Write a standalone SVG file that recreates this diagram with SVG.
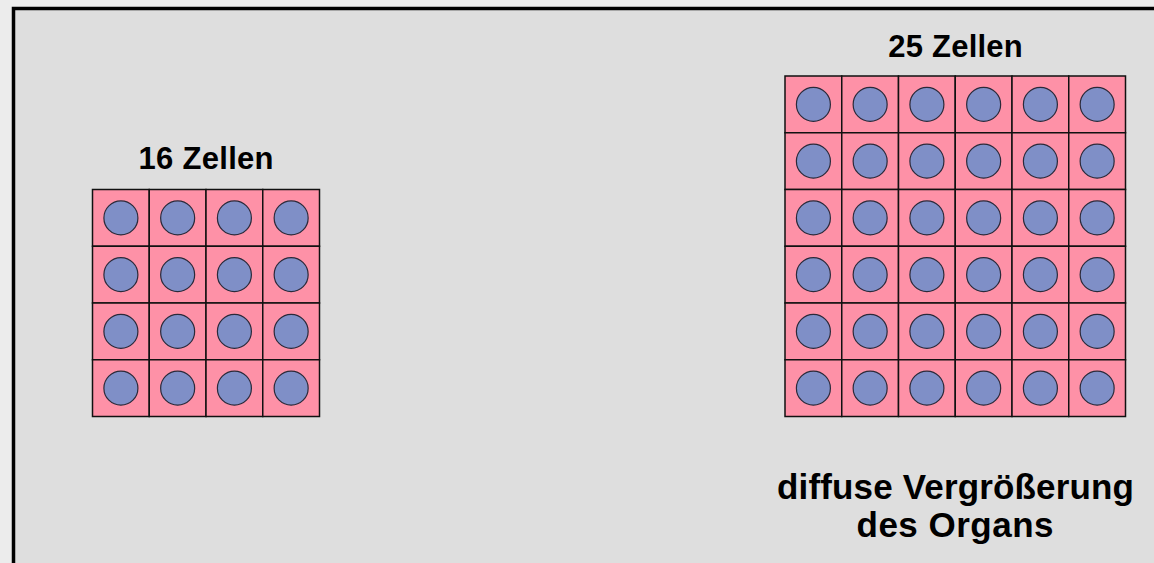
<svg xmlns="http://www.w3.org/2000/svg" width="1154" height="563" viewBox="0 0 1154 563">
<defs>
<style>
.cell{fill:#fe91a7;stroke:#111;stroke-width:1.5}
.nuc{fill:#7f8fc7;stroke:#2a2a3a;stroke-width:1.2}
.lbl{font-family:"Liberation Sans",Arial,sans-serif;font-weight:bold;fill:#000;text-anchor:middle}
</style>
<g id="c">
<rect class="cell" x="0" y="0" width="56.75" height="56.75"/>
<circle class="nuc" cx="28.4" cy="28.4" r="17"/>
</g>
</defs>
<rect x="0" y="0" width="1154" height="563" fill="#ececec"/>
<rect x="13.5" y="8.5" width="1160" height="580" fill="#dedede" stroke="#000" stroke-width="3.5"/>
<g id="grid16">
<use href="#c" x="92.5" y="189.5"/><use href="#c" x="149.25" y="189.5"/><use href="#c" x="206" y="189.5"/><use href="#c" x="262.75" y="189.5"/>
<use href="#c" x="92.5" y="246.25"/><use href="#c" x="149.25" y="246.25"/><use href="#c" x="206" y="246.25"/><use href="#c" x="262.75" y="246.25"/>
<use href="#c" x="92.5" y="303"/><use href="#c" x="149.25" y="303"/><use href="#c" x="206" y="303"/><use href="#c" x="262.75" y="303"/>
<use href="#c" x="92.5" y="359.75"/><use href="#c" x="149.25" y="359.75"/><use href="#c" x="206" y="359.75"/><use href="#c" x="262.75" y="359.75"/>
</g>
<g id="label16"><text class="lbl" x="206" y="168.5" font-size="31" textLength="135" lengthAdjust="spacing">16 Zellen</text></g>
<g id="grid25">
<g transform="translate(785,76)">
<use href="#c" x="0" y="0"/><use href="#c" x="56.75" y="0"/><use href="#c" x="113.5" y="0"/><use href="#c" x="170.25" y="0"/><use href="#c" x="227" y="0"/><use href="#c" x="283.75" y="0"/>
<use href="#c" x="0" y="56.75"/><use href="#c" x="56.75" y="56.75"/><use href="#c" x="113.5" y="56.75"/><use href="#c" x="170.25" y="56.75"/><use href="#c" x="227" y="56.75"/><use href="#c" x="283.75" y="56.75"/>
<use href="#c" x="0" y="113.5"/><use href="#c" x="56.75" y="113.5"/><use href="#c" x="113.5" y="113.5"/><use href="#c" x="170.25" y="113.5"/><use href="#c" x="227" y="113.5"/><use href="#c" x="283.75" y="113.5"/>
<use href="#c" x="0" y="170.25"/><use href="#c" x="56.75" y="170.25"/><use href="#c" x="113.5" y="170.25"/><use href="#c" x="170.25" y="170.25"/><use href="#c" x="227" y="170.25"/><use href="#c" x="283.75" y="170.25"/>
<use href="#c" x="0" y="227"/><use href="#c" x="56.75" y="227"/><use href="#c" x="113.5" y="227"/><use href="#c" x="170.25" y="227"/><use href="#c" x="227" y="227"/><use href="#c" x="283.75" y="227"/>
<use href="#c" x="0" y="283.75"/><use href="#c" x="56.75" y="283.75"/><use href="#c" x="113.5" y="283.75"/><use href="#c" x="170.25" y="283.75"/><use href="#c" x="227" y="283.75"/><use href="#c" x="283.75" y="283.75"/>
</g>
</g>
<g id="label25"><text class="lbl" x="955.5" y="56.5" font-size="31" textLength="134.5" lengthAdjust="spacing">25 Zellen</text></g>
<g id="caption">
<text class="lbl" x="955.5" y="498.5" font-size="35" textLength="357" lengthAdjust="spacing">diffuse Vergrößerung</text>
<text class="lbl" x="955" y="537" font-size="35" textLength="197" lengthAdjust="spacing">des Organs</text>
</g>
</svg>
